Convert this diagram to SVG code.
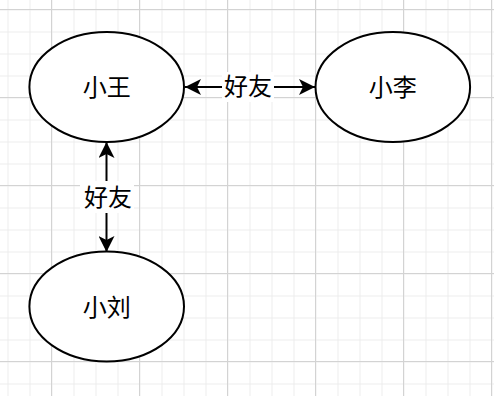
<svg xmlns="http://www.w3.org/2000/svg" width="494" height="396" viewBox="0 0 494 396">
<defs>
<pattern id="minor" x="7.5" y="9.5" width="22" height="22" patternUnits="userSpaceOnUse">
<path d="M0 0.5H22M0.5 0V22" fill="none" stroke="#ececec" stroke-width="1"/>
</pattern>
<pattern id="major" x="51" y="9" width="88" height="88" patternUnits="userSpaceOnUse">
<path d="M0 0.5H88M0.5 0V88" fill="none" stroke="#d3d3d3" stroke-width="1"/>
</pattern>
<marker id="arr" viewBox="0 0 17 16" refX="16" refY="8" markerWidth="17" markerHeight="16" markerUnits="userSpaceOnUse" orient="auto-start-reverse">
<path d="M0 0L16 8L0 16L4 8Z" fill="#000"/>
</marker>
</defs>
<style>
.node ellipse{fill:#fff;stroke:#000;stroke-width:2}
text{font-family:"Noto Sans CJK SC","Noto Sans",sans-serif;font-size:24px;fill:#000;text-anchor:middle}
.edge{stroke:#000;stroke-width:2;fill:none}
</style>
<rect width="494" height="396" fill="#fff"/>
<rect width="494" height="396" fill="url(#minor)"/>
<rect width="494" height="396" fill="url(#major)"/>
<g id="connectors">
<path class="edge" d="M185 87H315" marker-start="url(#arr)" marker-end="url(#arr)"/>
<rect x="222" y="72" width="52" height="30" fill="#fff"/>
<text x="248" y="95">好友</text>
<path class="edge" d="M106.5 142V252" marker-start="url(#arr)" marker-end="url(#arr)"/>
<rect x="80" y="181" width="54" height="32" fill="#fff"/>
<text x="108" y="206">好友</text>
</g>
<g id="node-xiaowang" class="node">
<ellipse cx="106.7" cy="87" rx="77.3" ry="55"/>
<text x="106.7" y="96">小王</text>
</g>
<g id="node-xiaoli" class="node">
<ellipse cx="392.8" cy="87" rx="77.3" ry="55"/>
<text x="392.8" y="96">小李</text>
</g>
<g id="node-xiaoliu" class="node">
<ellipse cx="106.7" cy="306.5" rx="77.3" ry="55"/>
<text x="106.7" y="316">小刘</text>
</g>
</svg>
